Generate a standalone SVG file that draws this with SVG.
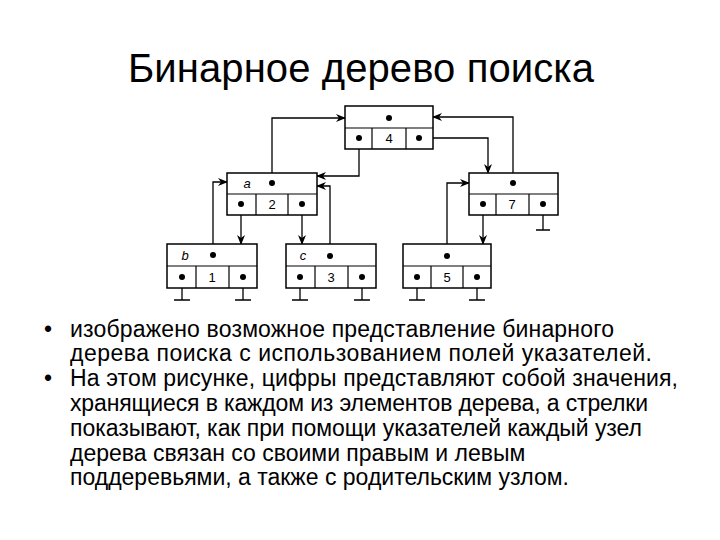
<svg xmlns="http://www.w3.org/2000/svg" width="720" height="540" viewBox="0 0 720 540">
<style>
.t{font-family:"Liberation Sans",Arial,sans-serif;fill:#000}
.b{fill:#fff;stroke:#000;stroke-width:1.5}
.l{stroke:#000;stroke-width:1.2;fill:none}
.c{stroke:#000;stroke-width:1.3;fill:none}
.a{stroke:#000;stroke-width:1.3;fill:none;marker-end:url(#ar)}
.n{font-family:"Liberation Sans",Arial,sans-serif;font-size:13px;text-anchor:middle}
</style>
<defs>
<marker id="ar" markerWidth="10" markerHeight="8" refX="9" refY="4" orient="auto" markerUnits="userSpaceOnUse"><path d="M0,0 L10,4 L0,8 L3,4 z" fill="#000"/></marker>
<g id="dot"><circle r="3" fill="#000"/></g>
</defs>
<rect width="720" height="540" fill="#fff"/>
<text class="t" x="361" y="82" font-size="40" text-anchor="middle" textLength="466">Бинарное дерево поиска</text>

<g id="connectors">
<path class="a" d="M272,183 V118 H345"/>
<path class="a" d="M359,138 V176 H317"/>
<path class="a" d="M330,256 V186 H317"/>
<path class="a" d="M241,204 V244"/>
<path class="a" d="M302,204 V244"/>
<path class="a" d="M213,255 V182 H227"/>
<path class="a" d="M419,138 H488 V173"/>
<path class="a" d="M513,183 V117 H433"/>
<path class="a" d="M483,204 V244"/>
<path class="a" d="M447,256 V183 H469"/>
<path class="c" d="M182,277 V300 M174,300 H190 M243,277 V300 M235,300 H251 M300,277 V300 M292,300 H308 M362,277 V300 M354,300 H370 M417,277 V300 M409,300 H425 M477,277 V300 M469,300 H485 M543,204 V230 M536,230 H550"/>
</g>

<g id="node4">
<rect class="b" x="345" y="106" width="88" height="43"/>
<path class="l" d="M345,128 H433 M372,128 V149 M406,128 V149"/>
<use href="#dot" x="389" y="118"/><use href="#dot" x="359" y="138"/><use href="#dot" x="419" y="138"/>
<text class="n" x="389" y="143">4</text>
</g>
<g id="nodeA">
<rect class="b" x="227" y="173" width="90" height="42"/>
<path class="l" d="M227,194 H317 M256,194 V215 M288,194 V215"/>
<text class="n" x="247" y="188" font-style="italic">a</text>
<use href="#dot" x="272" y="183"/><use href="#dot" x="241" y="204"/><use href="#dot" x="302" y="204"/>
<text class="n" x="272" y="209">2</text>
</g>
<g id="node7">
<rect class="b" x="469" y="173" width="89" height="42"/>
<path class="l" d="M469,194 H558 M496,194 V215 M529,194 V215"/>
<use href="#dot" x="513" y="183"/><use href="#dot" x="483" y="204"/><use href="#dot" x="543" y="204"/>
<text class="n" x="512" y="209">7</text>
</g>
<g id="nodeB">
<rect class="b" x="167" y="244" width="90" height="44"/>
<path class="l" d="M167,266 H257 M196,266 V288 M229,266 V288"/>
<text class="n" x="185" y="260" font-style="italic">b</text>
<use href="#dot" x="213" y="255"/><use href="#dot" x="182" y="277"/><use href="#dot" x="243" y="277"/>
<text class="n" x="212" y="282">1</text>
</g>
<g id="nodeC">
<rect class="b" x="286" y="244" width="90" height="44"/>
<path class="l" d="M286,266 H376 M315,266 V288 M348,266 V288"/>
<text class="n" x="303" y="260" font-style="italic">c</text>
<use href="#dot" x="330" y="256"/><use href="#dot" x="300" y="277"/><use href="#dot" x="362" y="277"/>
<text class="n" x="331" y="282">3</text>
</g>
<g id="node5">
<rect class="b" x="403" y="244" width="88" height="44"/>
<path class="l" d="M403,266 H491 M431,266 V288 M463,266 V288"/>
<use href="#dot" x="447" y="256"/><use href="#dot" x="417" y="277"/><use href="#dot" x="477" y="277"/>
<text class="n" x="447" y="282">5</text>
</g>

<g class="t" font-size="23">
<text x="44" y="337">•</text>
<text x="70" y="337" textLength="544">изображено возможное представление бинарного</text>
<text x="70" y="361" textLength="582">дерева поиска с использованием полей указателей.</text>
<text x="44" y="386">•</text>
<text x="70" y="386" textLength="608">На этом рисунке, цифры представляют собой значения,</text>
<text x="70" y="411" textLength="578">хранящиеся в каждом из элементов дерева, а стрелки</text>
<text x="70" y="436" textLength="572">показывают, как при помощи указателей каждый узел</text>
<text x="70" y="461">дерева связан со своими правым и левым</text>
<text x="70" y="485">поддеревьями, а также с родительским узлом.</text>
</g>
</svg>
